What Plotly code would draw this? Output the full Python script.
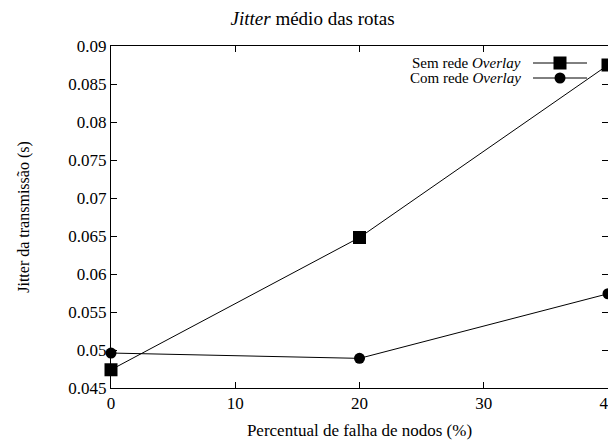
import plotly.graph_objects as go

x_vals = [0, 20, 40]
sem_overlay = [0.0474, 0.0648, 0.0875]
com_overlay = [0.0496, 0.0489, 0.0574]
x_ticks = [0, 10, 20, 30, 40]
y_ticks = [0.045, 0.05, 0.055, 0.06, 0.065, 0.07, 0.075, 0.08, 0.085, 0.09]
y_tick_labels = ["0.045", "0.05", "0.055", "0.06", "0.065", "0.07", "0.075", "0.08", "0.085", "0.09"]

FONT = "Liberation Serif, Times New Roman, serif"
OFF = 8  # page body margin
W, H = 616 - OFF, 440 - OFF
# target plot area in page pixels: x 111..608, y 46..388
L, R, T, B = 111 - OFF, 616 - 608, 46 - OFF, 440 - 388

fig = go.Figure()
fig.add_trace(go.Scatter(x=x_vals, y=sem_overlay, mode="lines+markers",
                         line=dict(color="black", width=1),
                         marker=dict(symbol="square", size=13, color="black"),
                         name="Sem rede Overlay", showlegend=False, cliponaxis=False))
fig.add_trace(go.Scatter(x=x_vals, y=com_overlay, mode="lines+markers",
                         line=dict(color="black", width=1),
                         marker=dict(symbol="circle", size=11, color="black"),
                         name="Com rede Overlay", showlegend=False, cliponaxis=False))

axis_common = dict(showgrid=False, zeroline=False, showline=True, linecolor="black",
                   linewidth=1, mirror="ticks", ticks="inside", ticklen=6, automargin=False,
                   ticklabeloverflow="allow",
                   tickcolor="black", tickfont=dict(family=FONT, size=17, color="black"))
fig.update_xaxes(range=[0, 40], tickvals=x_ticks, **axis_common,
                 title=dict(text="Percentual de falha de nodos (%)",
                            font=dict(family=FONT, size=17, color="black"), standoff=14))
fig.update_yaxes(range=[0.045, 0.09], tickvals=y_ticks, ticktext=y_tick_labels, **axis_common,
                 title=dict(text="Jitter da transmissão (s)",
                            font=dict(family=FONT, size=16, color="black"), standoff=34))

# manual gnuplot-style legend (text right-aligned, sample on the right)
pw, ph = W - L - R, H - T - B
def px(x):
    return (x - OFF - L) / pw
def py(y):
    return (H - B - (y - OFF)) / ph

legend_rows = [("Sem rede <i>Overlay</i>", 63, "square"), ("Com rede <i>Overlay</i>", 78, "circle")]
shapes = []
annotations = []
for text, yy, sym in legend_rows:
    annotations.append(dict(x=px(523), y=py(yy), xref="paper", yref="paper", text=text,
                            showarrow=False, xanchor="right", yanchor="middle",
                            font=dict(family=FONT, size=15, color="black")))
    shapes.append(dict(type="line", xref="paper", yref="paper", x0=px(533), x1=px(587),
                       y0=py(yy), y1=py(yy), line=dict(color="black", width=1)))
    if sym == "square":
        shapes.append(dict(type="rect", xref="paper", yref="paper", x0=px(553.5), x1=px(566.5),
                           y0=py(yy - 6.5), y1=py(yy + 6.5), fillcolor="black",
                           line=dict(color="black", width=0)))
    else:
        shapes.append(dict(type="circle", xref="paper", yref="paper", x0=px(554.5), x1=px(565.5),
                           y0=py(yy - 5.5), y1=py(yy + 5.5), fillcolor="black",
                           line=dict(color="black", width=0)))

fig.update_layout(
    width=W, height=H,
    margin=dict(l=L, r=R, t=T, b=B, autoexpand=False),
    paper_bgcolor="white", plot_bgcolor="white",
    font=dict(family=FONT),
    title=dict(text="<i>Jitter</i> médio das rotas", x=px(360), xanchor="center",
               y=1 - (18 - OFF) / H, yanchor="middle",
               font=dict(family=FONT, size=19, color="black")),
    shapes=shapes, annotations=annotations,
)
fig.write_html("out.html")
